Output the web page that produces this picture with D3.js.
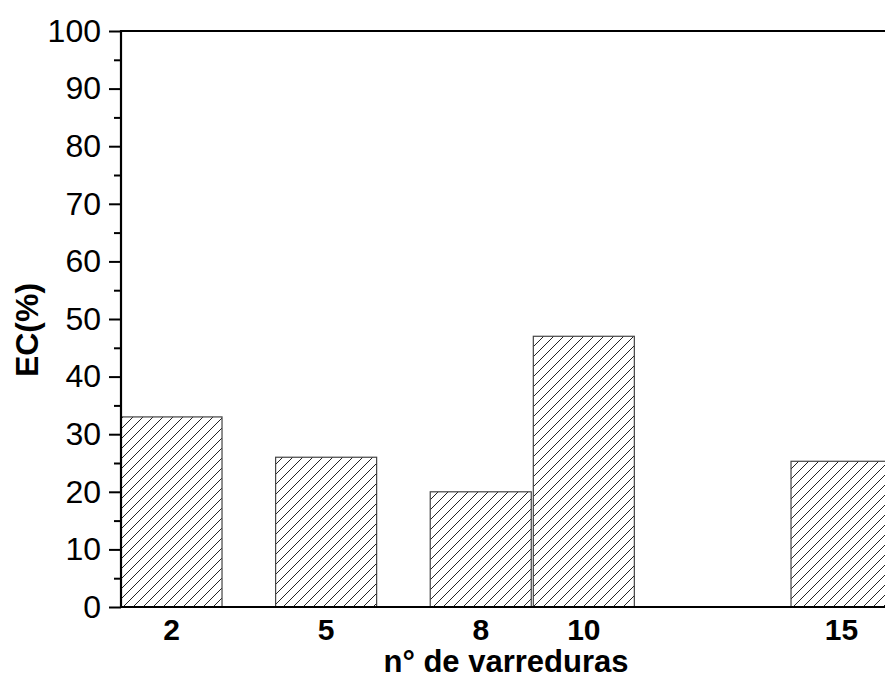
<!DOCTYPE html>
<html>
<head>
<meta charset="utf-8">
<script src="https://cdn.jsdelivr.net/npm/d3@7"></script>
<style>
  body { margin: 0; background: #fff; }
  svg { display: block; }
</style>
</head>
<body>
<div id="chart"></div>
<script>
// data
var varreduras = [2, 5, 8, 10, 15];
var ecValues = [33, 26, 20, 47, 25.3];
var xTickLabels = ["2", "5", "8", "10", "15"];
var yTicks = [0, 10, 20, 30, 40, 50, 60, 70, 80, 90, 100];
var yMinor = [5, 15, 25, 35, 45, 55, 65, 75, 85, 95];

var W = 885, H = 682;
var plotLeft = 121, plotTop = 31, plotBottom = 607;

var svg = d3.select("#chart").append("svg")
		.attr("width", W)
		.attr("height", H);

// hatch pattern for the bars
var defs = svg.append("defs");
var pat = defs.append("pattern")
		.attr("id", "hatch")
		.attr("patternUnits", "userSpaceOnUse")
		.attr("width", 10)
		.attr("height", 10);
pat.append("rect").attr("width", 10).attr("height", 10).attr("fill", "#fff");
pat.append("path")
		.attr("d", "M0,10 L10,0 M-2.5,2.5 L2.5,-2.5 M7.5,12.5 L12.5,7.5")
		.attr("stroke", "#222")
		.attr("stroke-width", 1);

var unit = 51.54;
var x = d3.scaleLinear()
		.domain([1.02, 17.02])
		.range([plotLeft, plotLeft + 16 * unit]);
var y = d3.scaleLinear()
		.domain([0, 100])
		.range([plotBottom, plotTop]);

var barW = 1.96;

// bars
svg.selectAll("rect.bar")
		.data(varreduras)
		.enter().append("rect")
		.attr("class", "bar")
		.attr("x", function(d) { return x(d - barW / 2); })
		.attr("width", function(d) { return x(d + barW / 2) - x(d - barW / 2); })
		.attr("y", function(d, i) { return y(ecValues[i]); })
		.attr("height", function(d, i) { return y(0) - y(ecValues[i]); })
		.attr("fill", "url(#hatch)")
		.attr("stroke", "#444")
		.attr("stroke-width", 1.2);

// frame: top line
svg.append("line")
		.attr("x1", plotLeft).attr("x2", W)
		.attr("y1", plotTop).attr("y2", plotTop)
		.attr("stroke", "#000").attr("stroke-width", 2);

// y axis with major and minor ticks
var yAxis = d3.axisLeft(y).tickValues(yTicks).tickSize(12).tickPadding(8);
var gy = svg.append("g")
		.attr("transform", "translate(" + plotLeft + ",0)")
		.call(yAxis);
gy.select(".domain").attr("stroke-width", 2.2).attr("d", "M0," + (plotBottom + 1) + "V" + (plotTop - 1));
gy.selectAll(".tick line").attr("stroke-width", 2);
gy.selectAll(".tick text")
		.style("font-family", "'Liberation Sans', Arial, sans-serif")
		.style("font-size", "32px")
		.attr("fill", "#000");

svg.append("g")
		.attr("transform", "translate(" + plotLeft + ",0)")
		.call(d3.axisLeft(y).tickValues(yMinor).tickSize(7).tickFormat(""))
		.call(function(g) { g.select(".domain").remove(); })
		.selectAll(".tick line").attr("stroke-width", 2);

// x axis line, no ticks
svg.append("line")
		.attr("x1", plotLeft - 1).attr("x2", W)
		.attr("y1", plotBottom).attr("y2", plotBottom)
		.attr("stroke", "#000").attr("stroke-width", 2.2);

// x tick labels
svg.selectAll("text.xlab")
		.data(varreduras)
		.enter().append("text")
		.attr("class", "xlab")
		.attr("x", function(d) { return x(d); })
		.attr("y", 640)
		.attr("text-anchor", "middle")
		.style("font-family", "'Liberation Sans', Arial, sans-serif")
		.style("font-weight", "bold")
		.style("font-size", "30px")
		.text(function(d, i) { return xTickLabels[i]; });

// axis titles
svg.append("text")
		.attr("x", 506)
		.attr("y", 672)
		.attr("text-anchor", "middle")
		.style("font-family", "'Liberation Sans', Arial, sans-serif")
		.style("font-weight", "bold")
		.style("font-size", "31px")
		.text("n° de varreduras");

svg.append("text")
		.attr("transform", "translate(38,330) rotate(-90)")
		.attr("text-anchor", "middle")
		.style("font-family", "'Liberation Sans', Arial, sans-serif")
		.style("font-weight", "bold")
		.style("font-size", "32px")
		.text("EC(%)");
</script>
</body>
</html>
